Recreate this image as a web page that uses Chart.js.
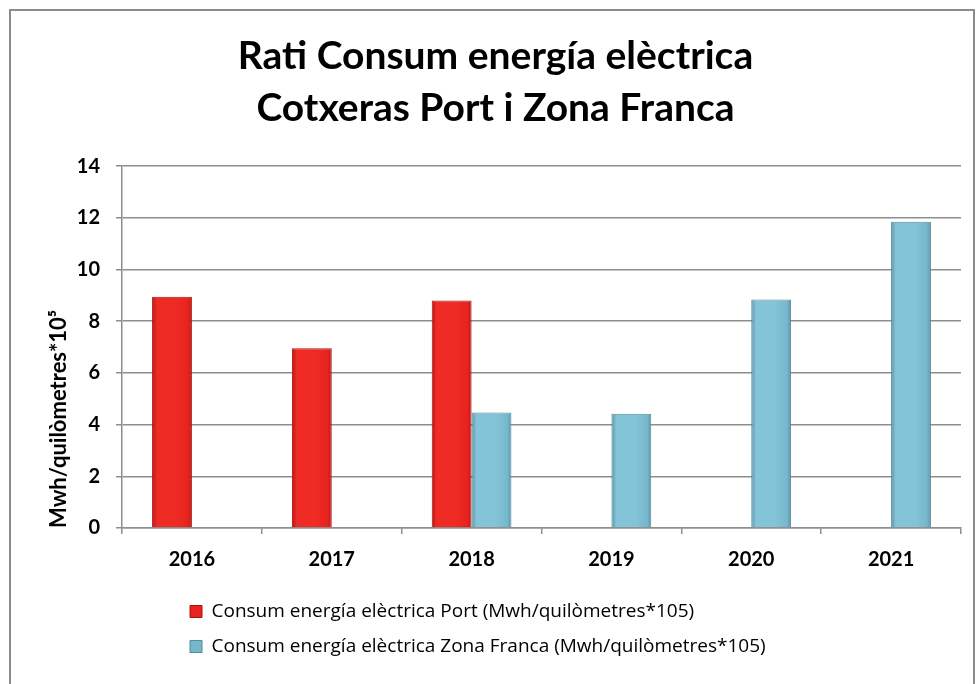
<!DOCTYPE html>
<html>
<head>
<meta charset="utf-8">
<script src="https://cdn.jsdelivr.net/npm/chart.js@4.4.1/dist/chart.umd.min.js"></script>
<style>
  html, body { margin: 0; padding: 0; background: #ffffff; }
  #wrap { position: relative; width: 976px; height: 684px; }
</style>
</head>
<body>
<div id="wrap"><canvas id="c" width="976" height="684"></canvas></div>
<script>
const titleLines = ['Rati Consum energía elèctrica', 'Cotxeras Port i Zona Franca'];
const categories = ['2016', '2017', '2018', '2019', '2020', '2021'];
const portLabel = 'Consum energía elèctrica Port (Mwh/quilòmetres*105)';
const portValues = [8.95, 6.95, 8.8, null, null, null];
const zonaLabel = 'Consum energía elèctrica Zona Franca (Mwh/quilòmetres*105)';
const zonaValues = [null, null, 4.47, 4.42, 8.84, 11.85];
const yAxisTitle = 'Mwh/quilòmetres*10⁵';
const yMin = 0, yMax = 14, yStep = 2;

const CAT_PCT = 0.57;
const palettes = [
  { edge: '#b71511', mid: '#ef2b25', flat: '#e8231f', border: '#a8140f' },
  { edge: '#5a92a5', mid: '#84c4d9', flat: '#77b7cc', border: '#55899b' }
];

function barFill(context) {
  const pal = palettes[context.datasetIndex];
  const chart = context.chart;
  const xs = chart.scales && chart.scales.x;
  if (!xs || !chart.chartArea || context.dataIndex === undefined) return pal.flat;
  const c = xs.getPixelForValue(context.dataIndex);
  const catW = xs.width / categories.length;
  const barW = catW * CAT_PCT / 2;
  const left = context.datasetIndex === 0 ? c - barW : c;
  if (!isFinite(left)) return pal.flat;
  const g = chart.ctx.createLinearGradient(left, 0, left + barW, 0);
  g.addColorStop(0, pal.edge);
  g.addColorStop(0.12, pal.mid);
  g.addColorStop(0.6, pal.mid);
  g.addColorStop(0.9, pal.flat);
  g.addColorStop(1, pal.edge);
  return g;
}

const frame = {
  id: 'frame',
  beforeDraw(chart) {
    const ctx = chart.ctx;
    ctx.save();
    ctx.fillStyle = '#ffffff';
    ctx.fillRect(0, 0, chart.width, chart.height);
    ctx.strokeStyle = '#8c8c8c';
    ctx.lineWidth = 2;
    ctx.strokeRect(10, 10, 964, 700);
    ctx.restore();
  }
};

const legendShift = {
  id: 'legendShift',
  afterLayout(chart) {
    if (chart.legend) { chart.legend.left += 144; }
  }
};

new Chart(document.getElementById('c'), {
  type: 'bar',
  data: {
    labels: categories,
    datasets: [
      { label: portLabel, data: portValues, backgroundColor: barFill, borderColor: palettes[0].border, borderWidth: 1 },
      { label: zonaLabel, data: zonaValues, backgroundColor: barFill, borderColor: palettes[1].border, borderWidth: 1 }
    ]
  },
  plugins: [frame, legendShift],
  options: {
    responsive: false,
    animation: false,
    devicePixelRatio: 1,
    layout: { padding: { left: 30, right: 15, top: 10, bottom: 18 } },
    datasets: { bar: { barPercentage: 1.0, categoryPercentage: CAT_PCT } },
    plugins: {
      title: {
        display: true,
        text: titleLines,
        color: '#000000',
        font: { family: 'Lato', size: 39, weight: 'bold', lineHeight: 1.335 },
        padding: { top: 20, bottom: 32 }
      },
      legend: {
        display: true,
        position: 'bottom',
        align: 'start',
        labels: {
          color: '#000000',
          font: { family: 'Open Sans', size: 19 },
          boxWidth: 12,
          boxHeight: 12,
          padding: 16,
          generateLabels(chart) {
            return chart.data.datasets.map((ds, i) => ({
              text: ds.label,
              fillStyle: palettes[i].flat,
              strokeStyle: palettes[i].border,
              lineWidth: 1,
              fontColor: '#000000',
              hidden: false,
              datasetIndex: i
            }));
          }
        }
      },
      tooltip: { enabled: false }
    },
    scales: {
      x: {
        grid: { display: true, drawOnChartArea: false, drawTicks: true, tickLength: 6, color: '#8e8e8e', lineWidth: 1.5 },
        border: { display: true, color: '#8e8e8e', width: 1.5 },
        ticks: { color: '#000000', font: { family: 'Lato', size: 20, weight: 'bold' }, padding: 14 }
      },
      y: {
        min: yMin, max: yMax,
        afterFit(scale) { scale.width = 92; },
        grid: { display: true, drawTicks: true, tickLength: 6, color: '#8e8e8e', lineWidth: 1.5 },
        border: { display: true, color: '#8e8e8e', width: 1.5 },
        ticks: { stepSize: yStep, color: '#000000', font: { family: 'Lato', size: 20, weight: 'bold' }, padding: 16 },
        title: {
          display: true,
          text: yAxisTitle,
          align: 'start',
          color: '#000000',
          font: { family: 'Lato', size: 22, weight: 'bold' },
          padding: { top: 16, bottom: 0 }
        }
      }
    }
  }
});
</script>
</body>
</html>
